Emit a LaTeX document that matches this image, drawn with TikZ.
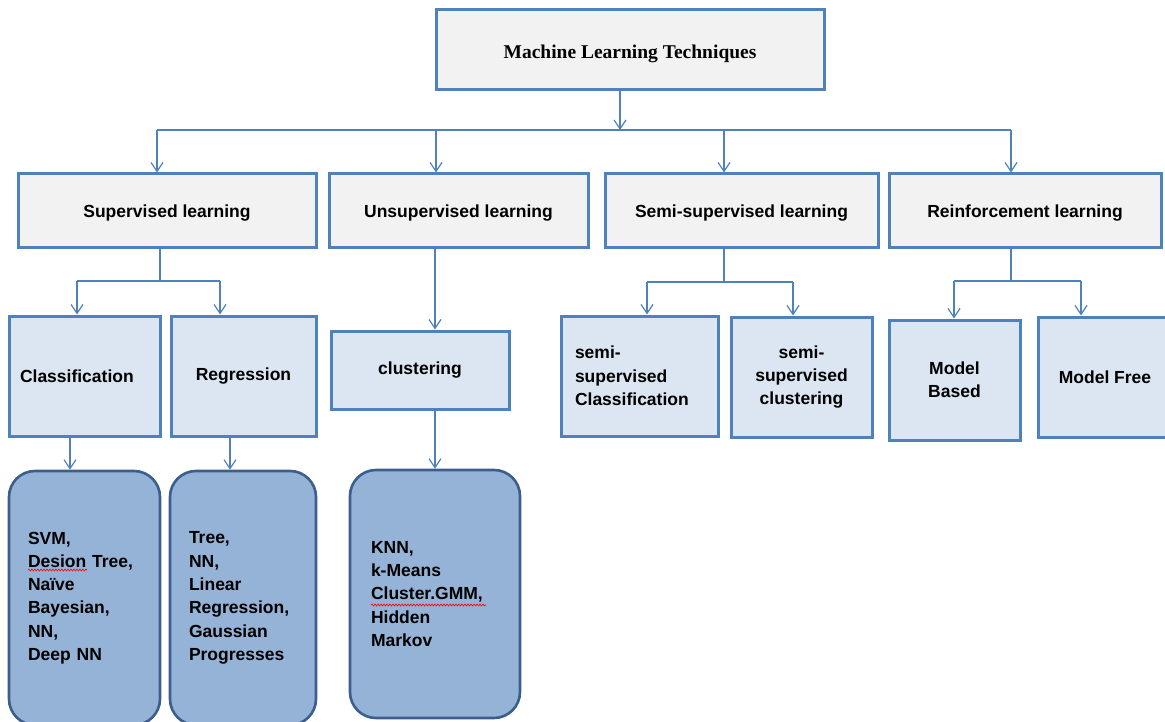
\documentclass[tikz,border=0pt]{standalone}
\usepackage{fontspec}
\setmainfont{Liberation Sans}
\newfontfamily\titlefont{Liberation Serif}
\usetikzlibrary{arrows.meta, decorations.pathmorphing}
\definecolor{BoxBlue}{HTML}{4F81BD}
\definecolor{DarkBlue}{HTML}{3B5E8C}
\definecolor{PaleGray}{HTML}{F2F2F2}
\definecolor{PaleBlue}{HTML}{DCE6F2}
\definecolor{MidBlue}{HTML}{95B3D7}
\tikzset{
    conn/.style = {
        draw       = BoxBlue,
        line width = 1.2pt,
    },
    arr/.style = {
        conn,
        -{Straight Barb[length = 9pt, width = 12pt]},
    },
    spellmark/.style = {
        draw        = red,
        line width  = 0.6pt,
        decorate,
        decoration  = {snake, amplitude = 1pt, segment length = 3pt},
    },
}

\begin{document}
\begin{tikzpicture}[
    x = 1pt,
    y = -1pt,
    every node/.style = {
        font       = \fontsize{17.5}{23.3}\selectfont\bfseries,
        inner sep  = 0pt,
    },
    topbox/.style = {
        draw          = BoxBlue,
        fill          = PaleGray,
        line width    = 3pt,
        text height   = 21.5pt,
        text depth    = 4.2pt,
        font          = \titlefont\fontsize{19.5}{23}\selectfont\bfseries,
    },
    groupbox/.style = {
        draw           = BoxBlue,
        fill           = PaleGray,
        line width     = 3pt,
        text height    = 16.8pt,
        text depth     = 3.7pt,
        minimum height = 74pt,
    },
    methodbox/.style = {
        draw           = BoxBlue,
        fill           = PaleBlue,
        line width     = 3pt,
        minimum height = 120pt,
        align          = center,
    },
    algobox/.style = {
        draw            = DarkBlue,
        fill            = MidBlue,
        line width      = 2.6pt,
        rounded corners = 26pt,
        align           = left,
    },
]
    \useasboundingbox (0, 0) rectangle (1165, 722);

    % root
    \node (top) [topbox, minimum width = 388pt, minimum height = 80pt] at (630, 50) {Machine Learning Techniques};

    % learning types
    \node (sup)  [groupbox, minimum width = 298pt] at ( 167.0, 211) {Supervised learning};
    \node (uns)  [groupbox, minimum width = 259pt] at ( 458.5, 211) {Unsupervised learning};
    \node (semi) [groupbox, minimum width = 273pt] at ( 741.5, 211) {Semi-supervised learning};
    \node (rein) [groupbox, minimum width = 272pt] at (1025.0, 211) {Reinforcement learning};

    % methods
    \node (cls) [methodbox, minimum width = 151pt, text width = 129pt, align = left] at (84.5, 376) {Classification};
    \node (reg) [methodbox, minimum width = 145pt] at (243.5, 376) {Regression};
    \node (clu) [methodbox, minimum width = 178pt, minimum height = 78pt] at (420, 370) {clustering};
    \node (ssc) [methodbox, minimum width = 157pt, text width = 129pt, align = left] at (639.5, 376) {semi-\\supervised\\Classification};
    \node (ssk) [methodbox, minimum width = 141pt] at (801.5, 377) {semi-\\supervised\\clustering};
    \node (mb)  [methodbox, minimum width = 131pt] at (954.5, 380) {Model\\Based};
    \node (mf)  [methodbox, minimum width = 134pt] at (1105, 377) {Model Free};

    % algorithms
    \node (svm)  [algobox, minimum width = 151pt, minimum height = 254pt, text width = 113pt] at (84.5, 598)
        {SVM,\\Desion Tree,\\Naïve\\Bayesian,\\NN,\\Deep NN};
    \node (tree) [algobox, minimum width = 146pt, minimum height = 254pt, text width = 108pt] at (243, 598)
        {Tree,\\NN,\\Linear\\Regression,\\Gaussian\\Progresses};
    \node (knn)  [algobox, minimum width = 170pt, minimum height = 248pt, text width = 128pt] at (435, 594)
        {KNN,\\k-Means\\Cluster.GMM,\\Hidden\\Markov};

    % spell-check marks
    \draw[spellmark] ( 28, 570) -- ( 87, 570);
    \draw[spellmark] (371, 605) -- (486, 605);

    % junctions
    \coordinate (bus)  at ( 620, 130);
    \coordinate (busA) at ( 157, 130);
    \coordinate (busB) at ( 436, 130);
    \coordinate (busC) at ( 724, 130);
    \coordinate (busD) at (1011, 130);

    \coordinate (supJ) at ( 160, 281);
    \coordinate (clsJ) at (  77, 281);
    \coordinate (regJ) at ( 220, 281);
    \coordinate (unsJ) at ( 435, 281);
    \coordinate (semJ) at ( 724, 282);
    \coordinate (sscJ) at ( 647, 282);
    \coordinate (sskJ) at ( 793, 282);
    \coordinate (reiJ) at (1011, 281);
    \coordinate (mbJ)  at ( 954, 281);
    \coordinate (mfJ)  at (1081, 281);

    \coordinate (svmJ)  at ( 70, 450);
    \coordinate (treeJ) at (230, 450);

    % connectors
    \draw[arr]  (top.south -| bus) -- (bus);
    \draw[conn] (busA) -- (busD);
    \foreach \j/\n in {busA/sup, busB/uns, busC/semi, busD/rein}
        \draw[arr] (\j) -- (\j |- \n.north);

    \draw[conn] (supJ |- sup.south) -- (supJ);
    \draw[conn] (clsJ) -- (regJ);
    \draw[arr]  (clsJ) -- (clsJ |- cls.north);
    \draw[arr]  (regJ) -- (regJ |- reg.north);

    \draw[arr]  (unsJ |- uns.south) -- (unsJ |- clu.north);

    \draw[conn] (semJ |- semi.south) -- (semJ);
    \draw[conn] (sscJ) -- (sskJ);
    \draw[arr]  (sscJ) -- (sscJ |- ssc.north);
    \draw[arr]  (sskJ) -- (sskJ |- ssk.north);

    \draw[conn] (reiJ |- rein.south) -- (reiJ);
    \draw[conn] (mbJ) -- (mfJ);
    \draw[arr]  (mbJ) -- (mbJ |- mb.north);
    \draw[arr]  (mfJ) -- (mfJ |- mf.north);

    \draw[arr]  (svmJ |- cls.south)  -- (svmJ |- svm.north);
    \draw[arr]  (treeJ |- reg.south) -- (treeJ |- tree.north);
    \draw[arr]  (unsJ |- clu.south)  -- (unsJ |- knn.north);
\end{tikzpicture}
\end{document}
